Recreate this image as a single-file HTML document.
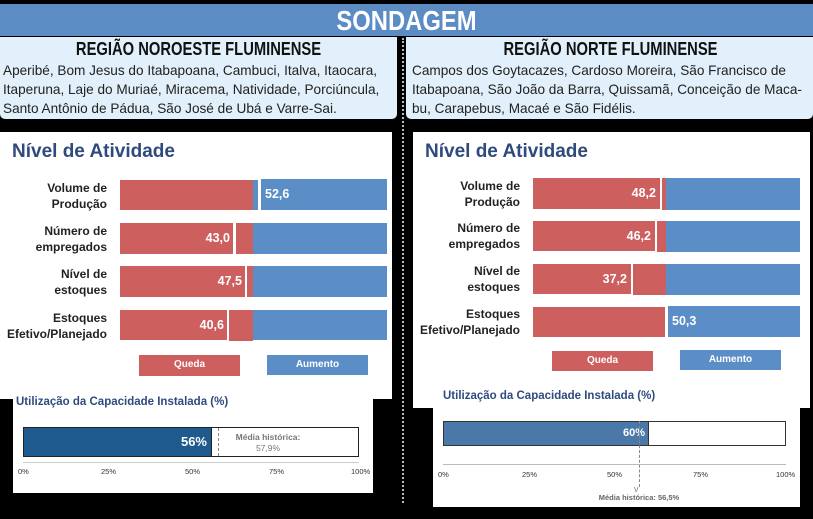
<!DOCTYPE html>
<html><head><meta charset="utf-8"><style>
*{margin:0;padding:0;box-sizing:border-box}
body{width:813px;height:519px;background:#000;position:relative;overflow:hidden;font-family:"Liberation Sans",sans-serif}
.a{position:absolute}
.hd{left:0;top:4px;width:813px;height:32px;background:#5b8cc4;color:#fff;font-weight:bold;font-size:28px;text-align:center;line-height:33px}
.hd span{display:inline-block;transform:scaleX(0.85)}
.reg{background:#e1f0fa;top:37px;height:82px;border-radius:0 0 5px 5px;color:#222;font-size:13.6px;line-height:19px;padding:0 3px;white-space:nowrap}
.reg h2{font-size:18px;text-align:center;line-height:24px;color:#111}
.reg h2 span{display:inline-block;transform:scaleX(0.82)}
.w{background:#fff}
.t{color:#2e4a7e;font-weight:bold;font-size:19px}
.lb{font-weight:bold;font-size:12px;color:#222;text-align:right;line-height:16px}
.r{background:#cd5f5f}.b{background:#5b8ec6}
.v{color:#fff;font-weight:bold;font-size:12.5px;line-height:30px}
.lg{color:#fff;font-size:10px;font-weight:bold;text-align:center;line-height:20px}
.st{color:#2e4a7e;font-weight:bold;font-size:11.5px}
.tk{font-size:7.5px;color:#333}
</style></head><body>
<div class="a hd"><span>SONDAGEM</span></div>
<div class="a reg" style="left:0;width:397px"><h2><span>REGIÃO NOROESTE FLUMINENSE</span></h2>Aperibé, Bom Jesus do Itabapoana, Cambuci, Italva, Itaocara,<br>Itaperuna, Laje do Muriaé, Miracema, Natividade, Porciúncula,<br>Santo Antônio de Pádua, São José de Ubá e Varre-Sai.</div>
<div class="a reg" style="left:406px;width:407px;padding-left:6px"><h2><span>REGIÃO NORTE FLUMINENSE</span></h2>Campos dos Goytacazes, Cardoso Moreira, São Francisco de<br>Itabapoana, São João da Barra, Quissamã, Conceição de Maca-<br>bu, Carapebus, Macaé e São Fidélis.</div>
<div class="a" style="left:402px;top:38px;height:465px;border-left:2px dotted #bbb"></div>

<!-- left panel -->
<div class="a w" style="left:0;top:132px;width:392px;height:267px"></div>
<div class="a w" style="left:13px;top:395px;width:360px;height:98px"></div>
<div class="a t" style="left:12px;top:141px">Nível de Atividade</div>
<div class="a lb" style="left:0;width:107px;top:180px">Volume de<br>Produção</div>
<div class="a lb" style="left:0;width:107px;top:223px">Número de<br>empregados</div>
<div class="a lb" style="left:0;width:107px;top:266px">Nível de<br>estoques</div>
<div class="a lb" style="left:0;width:107px;top:310px">Estoques<br>Efetivo/Planejado</div>
<div class="a r" style="left:120px;top:180px;width:133px;height:30px"></div><div class="a b" style="left:253px;top:180px;width:5px;height:30px"></div><div class="a b v" style="left:261px;top:179px;width:126px;height:31px;padding-left:4px">52,6</div>
<div class="a r v" style="left:120px;top:223px;width:113px;height:31px;text-align:right;padding-right:3px">43,0</div><div class="a r" style="left:236px;top:223px;width:17px;height:31px"></div><div class="a b" style="left:253px;top:223px;width:134px;height:31px"></div>
<div class="a r v" style="left:120px;top:266px;width:125px;height:31px;text-align:right;padding-right:3px">47,5</div><div class="a r" style="left:247px;top:266px;width:6px;height:31px"></div><div class="a b" style="left:253px;top:266px;width:134px;height:31px"></div>
<div class="a r v" style="left:120px;top:310px;width:107px;height:30px;text-align:right;padding-right:3px">40,6</div><div class="a r" style="left:229px;top:310px;width:24px;height:31px"></div><div class="a b" style="left:253px;top:310px;width:134px;height:30px"></div>
<div class="a r lg" style="left:139px;top:355px;width:101px;height:21px">Queda</div>
<div class="a b lg" style="left:267px;top:355px;width:101px;height:20px">Aumento</div>
<div class="a st" style="left:16px;top:396px">Utilização da Capacidade Instalada (%)</div>
<div class="a" style="left:23px;top:427px;width:336px;height:30px;border:1.5px solid #222;background:#fff"></div>
<div class="a" style="left:23px;top:427px;width:189px;height:30px;background:#1f5a8f;border:1.5px solid #222;color:#fff;font-weight:bold;font-size:13px;text-align:right;line-height:28px;padding-right:4px">56%</div>
<div class="a" style="left:218px;top:428px;height:28px;border-left:1.5px dashed #888"></div>
<div class="a" style="left:228px;top:432px;width:80px;text-align:center;color:#777;font-size:8.5px;font-weight:bold;line-height:11px">Média histórica:<br><span style="font-weight:normal">57,9%</span></div>
<div class="a" style="left:23px;top:462px;width:336px;border-top:1px solid #ccc"></div>
<div class="a tk" style="left:18px;top:467px">0%</div><div class="a tk" style="left:101px;top:467px">25%</div><div class="a tk" style="left:185px;top:467px">50%</div><div class="a tk" style="left:269px;top:467px">75%</div><div class="a tk" style="left:351px;top:467px">100%</div>

<!-- right panel -->
<div class="a w" style="left:413px;top:132px;width:397px;height:276px"></div>
<div class="a w" style="left:433px;top:400px;width:367px;height:107px"></div>
<div class="a t" style="left:425px;top:141px">Nível de Atividade</div>
<div class="a lb" style="left:400px;width:120px;top:178px">Volume de<br>Produção</div>
<div class="a lb" style="left:400px;width:120px;top:220px">Número de<br>empregados</div>
<div class="a lb" style="left:400px;width:120px;top:263px">Nível de<br>estoques</div>
<div class="a lb" style="left:400px;width:120px;top:306px">Estoques<br>Efetivo/Planejado</div>
<div class="a r v" style="left:533px;top:178px;width:127px;height:31px;text-align:right;padding-right:4px">48,2</div><div class="a r" style="left:662px;top:178px;width:4px;height:32px"></div><div class="a b" style="left:666px;top:178px;width:134px;height:32px"></div>
<div class="a r v" style="left:533px;top:221px;width:122px;height:30px;text-align:right;padding-right:4px">46,2</div><div class="a r" style="left:657px;top:221px;width:9px;height:31px"></div><div class="a b" style="left:666px;top:221px;width:134px;height:31px"></div>
<div class="a r v" style="left:533px;top:264px;width:98px;height:30px;text-align:right;padding-right:4px">37,2</div><div class="a r" style="left:633px;top:264px;width:33px;height:31px"></div><div class="a b" style="left:666px;top:264px;width:134px;height:31px"></div>
<div class="a r" style="left:533px;top:307px;width:132px;height:30px"></div><div class="a b v" style="left:668px;top:306px;width:132px;height:31px;padding-left:4px">50,3</div>
<div class="a r lg" style="left:552px;top:351px;width:101px;height:20px">Queda</div>
<div class="a b lg" style="left:680px;top:350px;width:101px;height:20px">Aumento</div>
<div class="a st" style="left:443px;top:390px">Utilização da Capacidade Instalada (%)</div>
<div class="a" style="left:443px;top:421px;width:343px;height:25px;border:1px solid #333;background:#fff"></div>
<div class="a" style="left:443px;top:421px;width:206px;height:25px;background:#4a78a8;border:1px solid #333;color:#fff;font-weight:bold;font-size:11px;text-align:right;line-height:23px;padding-right:3px">60%</div>
<div class="a" style="left:639px;top:421px;height:66px;border-left:1.5px dashed #888"></div>
<div class="a" style="left:634px;top:484px;color:#888;font-size:9px">v</div>
<div class="a" style="left:443px;top:464px;width:343px;border-top:1px solid #bbb"></div>
<div class="a tk" style="left:438px;top:470px">0%</div><div class="a tk" style="left:522px;top:470px">25%</div><div class="a tk" style="left:607px;top:470px">50%</div><div class="a tk" style="left:693px;top:470px">75%</div><div class="a tk" style="left:776px;top:470px">100%</div>
<div class="a" style="left:589px;top:493px;width:100px;text-align:center;color:#666;font-size:7.5px;font-weight:bold">Média histórica: 56,5%</div>
</body></html>
